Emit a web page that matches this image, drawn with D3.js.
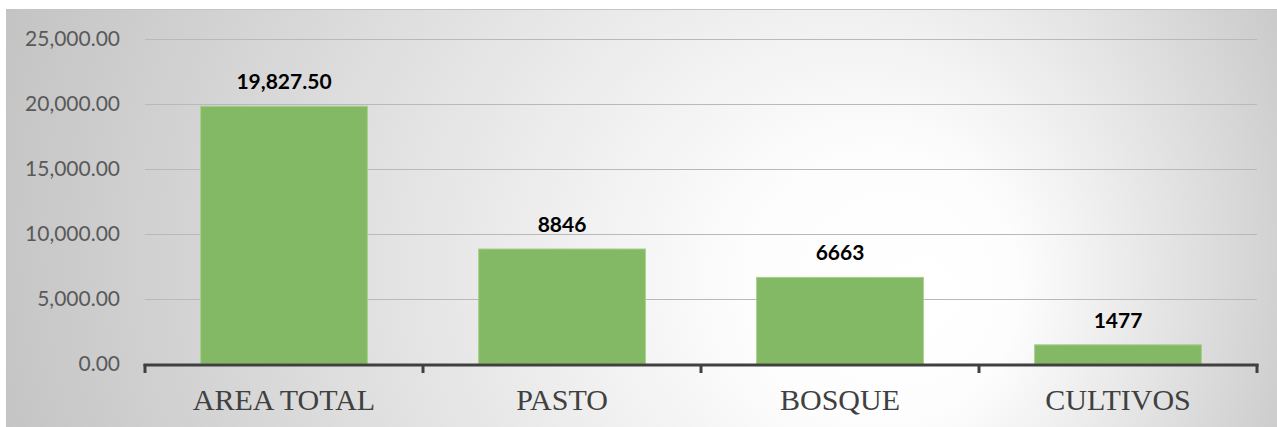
<!DOCTYPE html>
<html>
<head>
<meta charset="utf-8">
<script src="https://cdn.jsdelivr.net/npm/d3@7/dist/d3.min.js"></script>
<style>
  html, body { margin: 0; padding: 0; background: #ffffff; }
  svg { display: block; }
</style>
</head>
<body>
<svg id="chart" width="1277" height="427"></svg>
<script>
// data
var categories = ["AREA TOTAL", "PASTO", "BOSQUE", "CULTIVOS"];
var values = [19827.5, 8846, 6663, 1477];
var valueLabels = ["19,827.50", "8846", "6663", "1477"];
var yTicks = [0, 5000, 10000, 15000, 20000, 25000];

var svg = d3.select("#chart");
var W = 1277, H = 427;
var plotLeft = 145, plotRight = 1257, plotTop = 39, plotBottom = 364;

// background with off-centre radial gradient
var defs = svg.append("defs");
var grad = defs.append("radialGradient")
	.attr("id", "bg")
	.attr("gradientUnits", "userSpaceOnUse")
	.attr("cx", 640).attr("cy", 230).attr("r", 760)
	.attr("fx", 935).attr("fy", 300);
grad.append("stop").attr("offset", "0").attr("stop-color", "#ffffff");
grad.append("stop").attr("offset", "0.18").attr("stop-color", "#fdfdfd");
grad.append("stop").attr("offset", "1").attr("stop-color", "#bdbdbd");

svg.append("rect")
	.attr("x", 6.5).attr("y", 9.5)
	.attr("width", W - 6).attr("height", H - 8)
	.attr("fill", "url(#bg)")
	.attr("stroke", "#c4c4c4").attr("stroke-width", 1);

var x = d3.scaleBand()
	.domain(categories)
	.range([plotLeft, plotRight])
	.paddingInner(0.4)
	.paddingOuter(0.2);

var y = d3.scaleLinear()
	.domain([0, 25000])
	.range([plotBottom, plotTop]);

var fmt = d3.format(",.2f");

// gridlines
svg.append("g").selectAll("line")
	.data(yTicks.filter(function(d){return d>0;}))
	.enter().append("line")
	.attr("x1", plotLeft).attr("x2", plotRight)
	.attr("y1", function(d){return Math.round(y(d))+0.5;})
	.attr("y2", function(d){return Math.round(y(d))+0.5;})
	.attr("stroke", "#b9b9b9").attr("stroke-width", 1);

// y tick labels
svg.append("g").selectAll("text")
	.data(yTicks)
	.enter().append("text")
	.attr("x", 120)
	.attr("y", function(d){return y(d);})
	.attr("dy", "0.35em")
	.attr("text-anchor", "end")
	.attr("font-family", "Lato, 'Open Sans', sans-serif")
	.attr("font-size", 21)
	.attr("fill", "#595959")
	.text(function(d){return fmt(d);});

// bars
svg.append("g").selectAll("rect")
	.data(values)
	.enter().append("rect")
	.attr("x", function(d,i){return x(categories[i]);})
	.attr("y", function(d){return y(d);})
	.attr("width", x.bandwidth())
	.attr("height", function(d){return plotBottom - y(d);})
	.attr("fill", "#83b964")
	.attr("stroke", "#a6d08c").attr("stroke-width", 1);

// value labels
svg.append("g").selectAll("text")
	.data(values)
	.enter().append("text")
	.attr("x", function(d,i){return x(categories[i]) + x.bandwidth()/2;})
	.attr("y", function(d){return y(d) - 17;})
	.attr("text-anchor", "middle")
	.attr("font-family", "Lato, 'Open Sans', sans-serif")
	.attr("font-weight", "bold")
	.attr("font-size", 21)
	.attr("fill", "#000000")
	.text(function(d,i){return valueLabels[i];});

// x axis line and tick marks at category boundaries
var step = x.step();
var bounds = d3.range(categories.length + 1).map(function(i){return plotLeft + i*step;});
var axis = svg.append("g");
axis.append("line")
	.attr("x1", plotLeft - 1.5).attr("x2", plotRight + 1.5)
	.attr("y1", plotBottom + 1).attr("y2", plotBottom + 1)
	.attr("stroke", "#404040").attr("stroke-width", 3);
axis.selectAll("line.tick")
	.data(bounds)
	.enter().append("line")
	.attr("class", "tick")
	.attr("x1", function(d){return d;}).attr("x2", function(d){return d;})
	.attr("y1", plotBottom).attr("y2", plotBottom + 9)
	.attr("stroke", "#404040").attr("stroke-width", 3);

// category labels
svg.append("g").selectAll("text")
	.data(categories)
	.enter().append("text")
	.attr("x", function(d){return x(d) + x.bandwidth()/2;})
	.attr("y", 410)
	.attr("text-anchor", "middle")
	.attr("font-family", "'Liberation Serif', 'Times New Roman', serif")
	.attr("font-size", 30)
	.attr("fill", "#404040")
	.text(function(d){return d;});
</script>
</body>
</html>
